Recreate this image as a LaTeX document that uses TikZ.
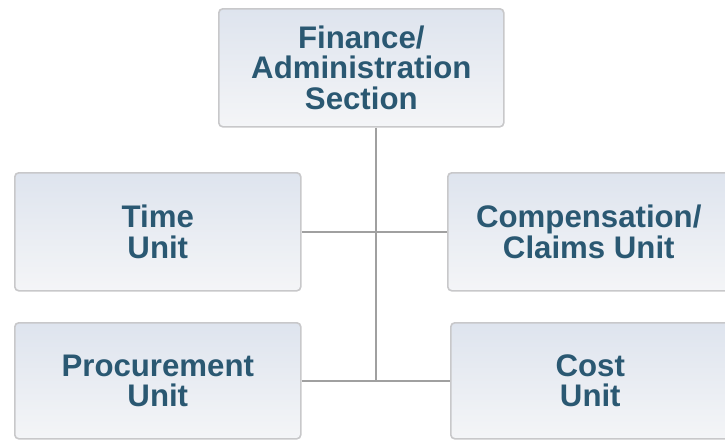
\documentclass[tikz,border=0pt]{standalone}
\usepackage{fontspec}
\setmainfont{Liberation Sans}
\definecolor{boxtop}{RGB}{222,228,238}
\definecolor{boxbot}{RGB}{244,245,247}
\definecolor{boxline}{RGB}{200,200,202}
\definecolor{linkgray}{RGB}{160,160,160}
\definecolor{unittext}{RGB}{42,88,114}
\tikzset{
    unitbox/.style={draw=boxline, line width=0.8pt, rounded corners=2pt,
        top color=boxtop, bottom color=boxbot, text=unittext,
        font=\fontsize{15.6}{15.2}\selectfont\bfseries, align=center,
        inner sep=0pt, anchor=north west},
    link/.style={draw=linkgray, line width=1pt}
}
\begin{document}
\begin{tikzpicture}[x=0.5pt, y=-0.5pt]
    \useasboundingbox (0,0) rectangle (725,440);
    \node[unitbox, minimum width=142.5pt, minimum height=59pt] (finance) at (218,8) {Finance/\\Administration\\Section};
    \node[unitbox, minimum width=143pt, minimum height=59pt] (time) at (14,172) {Time\\Unit};
    \node[unitbox, minimum width=141pt, minimum height=59pt] (comp) at (447,172) {Compensation/\\Claims Unit};
    \node[unitbox, minimum width=143pt, minimum height=58pt] (procure) at (14,322) {Procurement\\Unit};
    \node[unitbox, minimum width=139.5pt, minimum height=58pt] (cost) at (450,322) {Cost\\Unit};
    \coordinate (hub) at (376,380);
    \draw[link] (finance.south -| hub) -- (hub);
    \draw[link] (time.east) -- (comp.west);
    \draw[link] (procure.east) -- (cost.west);
\end{tikzpicture}
\end{document}
